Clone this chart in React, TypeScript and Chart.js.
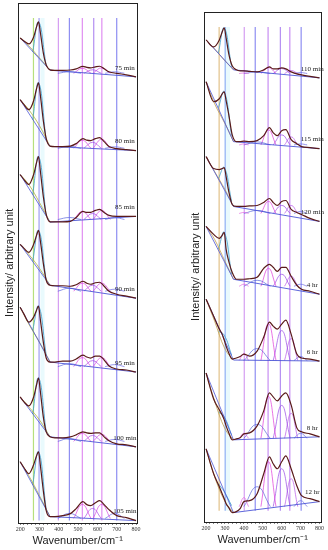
import React, { useEffect, useRef } from "react";
import { Chart, registerables } from "chart.js";
Chart.register(...registerables);

// ---------- wavenumber grids (cm-1) ----------
const leftGrid = [200, 220, 245, 270, 285, 295, 305, 320, 335, 355, 380, 420, 460, 490, 525, 545, 565, 590, 612, 635, 660, 700, 750, 800];
const rightGrid = [200, 240, 270, 285, 296, 306, 320, 338, 360, 380, 400, 430, 470, 505, 535, 555, 577, 600, 622, 650, 680, 705, 750, 800];

// ---------- spectra (intensity relative to the 800 cm-1 end) ----------
const min75 = [39, 36, 33, 40, 50, 55, 44, 24, 12, 7, 6.5, 6.5, 6.8, 8, 10.5, 9.5, 9, 10, 10.6, 8, 5, 3.5, 2, 0];
const min80 = [51, 46, 41, 50, 62, 68, 55, 30, 12, 4.5, 4, 4, 4.5, 7, 12, 10.5, 10, 12, 13, 9, 4, 2, 1, 0];
const min85 = [42, 37, 32, 42, 54, 60, 45, 20, 2, -5.5, -5.5, -5.5, -5, -1, 5, 4, 4, 6, 7, 4, 1, 0, 0, 0];
const min90 = [54, 50, 46, 54, 63, 68, 57, 35, 18, 13, 12.5, 12.5, 12, 13.5, 17, 15, 14, 15.5, 16, 12, 7, 4, 2, 0];
const min95 = [65, 58, 50, 55, 62, 66, 52, 30, 14, 10, 10, 11, 11, 13, 17, 15, 14, 16, 16, 12, 6, 3, 2, 0];
const min100 = [50, 45, 41, 50, 62, 69, 55, 30, 15, 10, 9, 9, 10, 12, 15, 14, 13.5, 14, 14, 10, 6, 3, 2, 0];
const min105 = [59, 53, 47, 56, 65, 69, 55, 30, 10, 4, 4, 5, 7, 12, 19, 16, 15, 18, 20, 16, 11, 5, 3, 0];

const min110 = [38, 31, 38, 46, 50, 40, 24, 12, 8, 7, 7, 6.5, 6, 8, 11, 9, 9, 10, 9, 6, 4, 3, 1.5, 0];
const min115 = [67, 47, 50, 55, 57, 48, 34, 14, 7, 7, 7.5, 7, 8, 13, 21, 16, 13, 18, 19, 9, 5, 2, 1, 0];
const min120 = [65, 53, 52, 53, 54, 45, 30, 17, 15, 15, 15, 15.5, 16, 19, 23, 19, 16, 20, 21, 12, 9, 7, 3, 0];
const hr4 = [68, 60, 56, 59, 62, 45, 33, 22, 15, 15, 15, 15.5, 17, 26, 30, 27, 23, 27, 27, 18, 9, 5, 3, 0];
const hr6 = [62, 45, 32, 27, 21, 15, 8, 2, 3, 4.5, 7, 5, 10, 24, 39, 35, 32, 37, 41, 27, 7, 3, 2, 0];
const hr8 = [64, 38, 27, 22, 17, 11, 4, -3, -2, -1, 3, 4, 11, 26, 44, 40, 36, 41, 44, 32, 9, 5, 3, 0];
const hr12 = [53, 28, 15, 8, 3, -2, -6, -11, -10, -7, 0, 1, 8, 28, 45, 38, 33, 40, 46, 33, 16, 6, 3, 0];

// ---------- labels and stacking offsets ----------
const leftNames = ["75 min", "80 min", "85 min", "90 min", "95 min", "100 min", "105 min"];
const rightNames = ["110 min", "115 min", "120 min", "4 hr", "6 hr", "8 hr", "12 hr"];
const leftOffsets = [447, 373, 307, 225, 151, 76, 2];
const rightOffsets = [445, 374, 301, 228, 161, 85, 20];

// ---------- baselines: [at 200, at knee, at 800] ----------
const leftBases = [[39, 6.6, 0], [51, 4.2, 0], [42, -5.7, 0], [54, 13, 0], [65, 10, 0], [50, 10, 0], [59, 4, 0]];
const rightBases = [[38, 8, 0], [67, 7, 0], [65, 15, 0], [68, 15, 0], [62, 1, 0], [64, -3, 0], [53, -11, 0]];

// ---------- low-wavenumber background component: at 200, 245, 300, knee ----------
const leftOlive = [[39, 31, 19, 6.6], [51, 41, 25, 4.2], [42, 32, 14, -5.7], [54, 44, 30, 13], [65, 48, 30, 10], [50, 40, 27, 10], [59, 45, 25, 4]];
const rightOlive = [[38, 29, 17, 8], [67, 45, 25, 7], [65, 50, 32, 15], [68, 55, 33, 15], [62, 40, 12, 1], [64, 36, 8, -3], [53, 25, 0, -11]];

// ---------- ~300 cm-1 component: foot 265, top 296, foot 335 ----------
const leftP300 = [[25, 55, 11], [31, 68, 10], [22, 60, 0.5], [37, 68, 18], [42, 66, 17], [33, 69, 15], [36, 69, 11]];
const rightP300 = [[25, 50, 11], [41, 57, 13], [43, 54, 20], [45, 62, 20], [30, 26, 6], [25, 20, 2], [18, 10, -4]];

// ---------- fitted band components ----------
const leftCompCenters = [455, 522, 575, 622, 690];
const leftCompHalfWidths = [60, 45, 45, 45, 50];
const leftCompBase = [3.5, 2.3, -3.1, 7, 5.4, 5.4, 2.2];
const leftCompHeights = [[1.5, 5, 3.5, 5.5, 1.5], [2, 8, 6, 9, 1.5], [2, 8, 6, 9, 2], [3, 8, 6, 8, 2], [3, 9, 6, 9, 2], [3, 8, 6, 7, 2], [5, 14, 10, 14, 5]];

const rightCompCenters = [400, 470, 530, 600, 650, 700];
const rightCompHalfWidths = [25, 70, 40, 45, 35, 35];
const rightCompBase = [4.3, 3.7, 8, 8, 0.5, -1.5, -5];
const rightCompHeights = [[0.5, 1.5, 6, 5, 3, 1], [1, 3, 15, 10, 8, 1], [1, 3, 12, 8, 8, 2], [2, 6, 18, 12, 10, 2], [7, 12, 37, 30, 22, 4], [5, 14, 42, 33, 25, 5], [9, 20, 45, 38, 28, 6]];

// ---------- assigned band positions (vertical lines) ----------
const leftBands = [269, 298, 398, 455, 522, 581, 623, 700];
const rightBands = [269, 301, 402, 460, 528, 593, 643, 703];

const leftBandColors = ["#b6e07c", "#9e9ef2", "#d59ef2", "#8e8ef2", "#e08ef2", "#b48ef2", "#e08ef2", "#8e8ef2"];
const rightBandColors = ["#e2c28a", "#8aaef4", "#d59ef2", "#8e8ef2", "#c88ef2", "#b48ef2", "#c88ef2", "#8e8ef2"];
const leftCompColors = ["#5a66dd", "#e040e0", "#a848e4", "#d848e0", "#6a6ae4"];
const rightCompColors = ["#e060e0", "#5a66d8", "#e038d8", "#9848e4", "#b858e8", "#6a6ae4"];

type Panel = {
  grid: number[];
  series: number[][];
  names: string[];
  offsets: number[];
  bases: number[][];
  olive: number[][];
  p300: number[][];
  compCenters: number[];
  compHalf: number[];
  compBase: number[];
  compHeights: number[][];
  compColors: string[];
  bands: number[];
  bandColors: string[];
  knee: number;
  xMin: number;
  xMax: number;
  yMax: number;
  bandLow: number;
  bandHigh: number;
  labelX: number;
  padding: { left: number; right: number; top: number; bottom: number };
  oliveColor: string;
};

const leftPanel: Panel = {
  grid: leftGrid,
  series: [min75, min80, min85, min90, min95, min100, min105],
  names: leftNames,
  offsets: leftOffsets,
  bases: leftBases,
  olive: leftOlive,
  p300: leftP300,
  compCenters: leftCompCenters,
  compHalf: leftCompHalfWidths,
  compBase: leftCompBase,
  compHeights: leftCompHeights,
  compColors: leftCompColors,
  bands: leftBands,
  bandColors: leftBandColors,
  knee: 355,
  xMin: 190,
  xMax: 805,
  yMax: 521,
  bandLow: 2,
  bandHigh: 506,
  labelX: 742,
  padding: { left: 1, right: 27, top: 3, bottom: 2 },
  oliveColor: "#b0b040",
};

const rightPanel: Panel = {
  grid: rightGrid,
  series: [min110, min115, min120, hr4, hr6, hr8, hr12],
  names: rightNames,
  offsets: rightOffsets,
  bases: rightBases,
  olive: rightOlive,
  p300: rightP300,
  compCenters: rightCompCenters,
  compHalf: rightCompHalfWidths,
  compBase: rightCompBase,
  compHeights: rightCompHeights,
  compColors: rightCompColors,
  bands: rightBands,
  bandColors: rightBandColors,
  knee: 345,
  xMin: 190,
  xMax: 808,
  yMax: 511,
  bandLow: 11,
  bandHigh: 496,
  labelX: 762,
  padding: { left: 23, right: 7, top: 12, bottom: 3 },
  oliveColor: "#c0a050",
};

function ds(data: { x: number; y: number }[], color: string, width: number, tension = 0, mono = false) {
  return {
    data,
    borderColor: color,
    borderWidth: width,
    pointRadius: 0,
    tension,
    cubicInterpolationMode: mono ? "monotone" : "default",
    fill: false,
  } as any;
}

function buildDatasets(p: Panel) {
  const main: any[] = [];
  const parts: any[] = [];
  p.series.forEach((vals, i) => {
    const off = p.offsets[i];
    main.push(ds(p.grid.map((x, k) => ({ x, y: off + vals[k] })), "#5a1a1a", 1.2, 0, true));
    const b = p.bases[i];
    parts.push(ds([{ x: 200, y: off + b[0] }, { x: p.knee, y: off + b[1] }], "#4c56d6", 0.8));
    parts.push(ds([{ x: p.knee, y: off + b[1] }, { x: 800, y: off + b[2] }], "#4c56d6", 0.9));
    const o = p.olive[i];
    parts.push(ds([200, 245, 300, p.knee].map((x, k) => ({ x, y: off + o[k] })), p.oliveColor, 0.8, 0.4));
    const q = p.p300[i];
    parts.push(ds([265, 296, 335].map((x, k) => ({ x, y: off + q[k] })), "#3c9ccc", 0.8, 0.45));
    p.compCenters.forEach((c, j) => {
      const h = p.compHeights[i][j];
      const w = p.compHalf[j];
      const cb = off + p.compBase[i];
      parts.push(ds([{ x: c - w, y: cb }, { x: c, y: cb + h }, { x: c + w, y: cb }], p.compColors[j], 0.7, 0.45));
    });
  });
  const bands: any[] = [];
  // faint cyan strip beside the ~300 cm-1 line
  bands.push(ds([{ x: 316, y: p.bandLow }, { x: 316, y: p.bandHigh }], "rgba(215,245,252,0.55)", 4));
  p.bands.forEach((b, j) => {
    bands.push(ds([{ x: b, y: p.bandLow }, { x: b, y: p.bandHigh }], p.bandColors[j], 1.2));
  });
  return [...main, ...parts, ...bands];
}

function makeConfig(p: Panel): any {
  const framePlugin = {
    id: "frameAndLabels",
    afterDatasetsDraw(chart: any) {
      const { ctx, chartArea, scales } = chart;
      ctx.save();
      ctx.strokeStyle = "#222";
      ctx.lineWidth = 1;
      ctx.strokeRect(
        Math.round(chartArea.left) + 0.5,
        Math.round(chartArea.top) + 0.5,
        Math.round(chartArea.right - chartArea.left),
        Math.round(chartArea.bottom - chartArea.top)
      );
      ctx.font = '7px "Liberation Serif"';
      ctx.fillStyle = "#222";
      ctx.textAlign = "center";
      ctx.textBaseline = "middle";
      p.names.forEach((t, i) => {
        ctx.fillText(t, scales.x.getPixelForValue(p.labelX), scales.y.getPixelForValue(p.offsets[i]) - 9);
      });
      ctx.restore();
    },
  };
  return {
    type: "line",
    data: { datasets: buildDatasets(p) },
    options: {
      animation: false,
      responsive: false,
      events: [],
      layout: { padding: p.padding },
      plugins: { legend: { display: false }, tooltip: { enabled: false } },
      elements: { point: { radius: 0 } },
      scales: {
        x: {
          type: "linear",
          min: p.xMin,
          max: p.xMax,
          border: { display: false },
          grid: { display: true, drawOnChartArea: false, drawTicks: true, tickLength: 2, color: "#333", lineWidth: 1 },
          ticks: {
            stepSize: 20,
            autoSkip: false,
            maxRotation: 0,
            minRotation: 0,
            includeBounds: false,
            padding: 1,
            color: "#333",
            font: { family: "Liberation Serif", size: 6 },
            callback: (v: number) => (v % 100 === 0 ? String(v) : ""),
          },
          title: {
            display: true,
            text: "Wavenumber/cm⁻¹",
            color: "#222",
            font: { family: "Liberation Sans", size: 11 },
            padding: { top: 1, bottom: 0 },
          },
        },
        y: {
          type: "linear",
          min: 0,
          max: p.yMax,
          border: { display: false },
          grid: { display: false, drawTicks: false },
          ticks: { display: false },
          title: {
            display: true,
            text: "Intensity/ arbitrary unit",
            color: "#222",
            font: { family: "Liberation Sans", size: 11 },
            padding: { top: 2, bottom: 2 },
          },
        },
      },
    },
    plugins: [framePlugin],
  };
}

function PanelChart({ panel, left }: { panel: Panel; left: number }) {
  const ref = useRef<HTMLCanvasElement | null>(null);
  useEffect(() => {
    if (!ref.current) return;
    const chart = new Chart(ref.current, makeConfig(panel));
    return () => chart.destroy();
  }, [panel]);
  return (
    <canvas
      ref={ref}
      width={164}
      height={550}
      style={{ position: "absolute", left, top: 0, width: 164, height: 550 }}
    />
  );
}

export default function App() {
  return (
    <div style={{ position: "absolute", left: 0, top: 0, width: 328, height: 550, background: "#fff", overflow: "hidden" }}>
      <PanelChart panel={leftPanel} left={0} />
      <PanelChart panel={rightPanel} left={164} />
    </div>
  );
}
